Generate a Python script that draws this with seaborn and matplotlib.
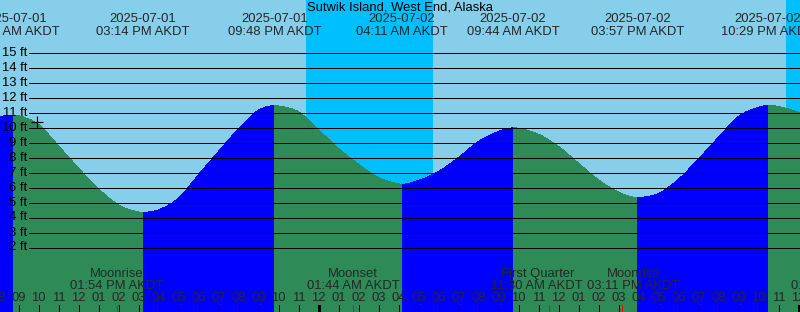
import numpy as np
import pandas as pd
import matplotlib
matplotlib.use("Agg")
import matplotlib.pyplot as plt
import seaborn as sns
from matplotlib.path import Path
from matplotlib.patches import PathPatch
from matplotlib.transforms import blended_transform_factory

# ---------------- data ----------------
station = "Sutwik Island, West End, Alaska"

# hours since 2025-07-01 00:00 AKDT, tide height in feet
tide_hours = [8.0, 8.75, 9, 10, 11, 12, 13, 14, 15, 15.233, 16, 17, 18, 19, 20, 21,
              21.8, 22, 23, 24, 25, 26, 27, 28, 28.183, 29, 30, 31, 32, 33, 33.733,
              34, 35, 36, 37, 38, 39, 39.95, 40, 41, 42, 43, 44, 45, 46, 46.483,
              47, 48, 48.1]
tide_feet = [10.74, 10.80, 10.78, 10.2, 8.77, 7.29, 5.91, 4.84, 4.37, 4.35, 4.51,
             5.29, 6.85, 8.4, 9.91, 11.15, 11.45, 11.43, 11.05, 9.85, 8.6, 7.55,
             6.65, 6.25, 6.22, 6.47, 7.07, 8.0, 9.07, 9.73, 9.97, 9.95, 9.55, 8.73,
             7.62, 6.51, 5.69, 5.33, 5.33, 5.6, 6.55, 7.9, 9.35, 10.73, 11.35,
             11.47, 11.4, 11.02, 10.97]

extreme_hours = [8.75, 15.233, 21.8, 28.183, 33.733, 39.95, 46.483]
extreme_dates = ["2025-07-01", "2025-07-01", "2025-07-01", "2025-07-02",
                 "2025-07-02", "2025-07-02", "2025-07-02"]
extreme_times = ["08:45 AM AKDT", "03:14 PM AKDT", "09:48 PM AKDT", "04:11 AM AKDT",
                 "09:44 AM AKDT", "03:57 PM AKDT", "10:29 PM AKDT"]

moon_hours = [13.9, 25.733, 35.5, 39.183, 49.917]
moon_names = ["Moonrise", "Moonset", "First Quarter", "Moonrise", "Moonset"]
moon_times = ["01:54 PM AKDT", "01:44 AM AKDT", "11:30 AM AKDT", "03:11 PM AKDT",
              "01:55 AM AKDT"]

night_start = [23.37, 47.39]
night_end = [29.72, 53.70]

now_hour = 9.94
now_feet = 10.37

feet_ticks = list(range(2, 16))
hour_ticks = list(range(8, 49))

# ---------------- style ----------------
SKY = "#87CEEB"
NIGHT = "#00BFFF"
RISING = "#0000FF"
FALLING = "#2E8B57"

sns.set_theme(style="white")
plt.rcParams["font.family"] = ["Liberation Sans", "DejaVu Sans"]
FS = 9.4
PX = 0.72  # one pixel in points

W, H = 800, 312
fig = plt.figure(figsize=(W / 100, H / 100), dpi=100)
ax = fig.add_axes([0, 0, 1, 1])
ax.set_facecolor(SKY)

x0 = 161.5 / 20
ax.set_xlim(x0, x0 + W / 20)
ybot = (277.5 - H) / 15
ax.set_ylim(ybot, 277.5 / 15)
ax.set_axis_off()
ax.add_patch(plt.Rectangle((0, 0), 1, 1, transform=ax.transAxes, color=SKY, zorder=0))

# night bands
for a, b in zip(night_start, night_end):
    ax.axvspan(a, b, color=NIGHT, lw=0, zorder=1)

# tide fills, split at extremes, drawn as smooth cubic curves through the readings
df = pd.DataFrame({"hour": tide_hours, "feet": tide_feet})
xs = df.hour.to_numpy(float)
ys = df.feet.to_numpy(float)
n = len(xs)
slopes = np.zeros(n)
ext_set = set(np.round(extreme_hours, 3))
for i in range(n):
    if round(xs[i], 3) in ext_set:
        slopes[i] = 0.0
    elif i == 0:
        slopes[i] = (ys[1] - ys[0]) / (xs[1] - xs[0])
    elif i == n - 1:
        slopes[i] = (ys[-1] - ys[-2]) / (xs[-1] - xs[-2])
    else:
        s1 = (ys[i] - ys[i - 1]) / (xs[i] - xs[i - 1])
        s2 = (ys[i + 1] - ys[i]) / (xs[i + 1] - xs[i])
        slopes[i] = 0.5 * (s1 + s2)

bounds = sorted(set(extreme_hours) | {tide_hours[0], tide_hours[-1]})
for a, b in zip(bounds[:-1], bounds[1:]):
    idx = np.where((xs >= a - 1e-9) & (xs <= b + 1e-9))[0]
    rising = ys[idx[-1]] > ys[idx[0]]
    col = RISING if rising else FALLING
    verts = [(xs[idx[0]], ybot), (xs[idx[0]], ys[idx[0]])]
    codes = [Path.MOVETO, Path.LINETO]
    for i, j in zip(idx[:-1], idx[1:]):
        dx = xs[j] - xs[i]
        verts += [(xs[i] + dx / 3, ys[i] + slopes[i] * dx / 3),
                  (xs[j] - dx / 3, ys[j] - slopes[j] * dx / 3),
                  (xs[j], ys[j])]
        codes += [Path.CURVE4] * 3
    verts += [(xs[idx[-1]], ybot), (xs[idx[0]], ybot)]
    codes += [Path.LINETO, Path.CLOSEPOLY]
    ax.add_patch(PathPatch(Path(verts, codes), facecolor=col, edgecolor="none",
                           lw=0, antialiased=False, zorder=2))

# horizontal reference lines
ft_tr = blended_transform_factory(ax.transAxes, ax.transData)
for f in feet_ticks:
    ax.axhline(f, xmin=29 / W, xmax=1, color="black", lw=PX, antialiased=False, zorder=4)
    ax.text(27 / W, f, f"{f} ft", transform=ft_tr, ha="right", va="center",
            fontsize=FS, color="black", zorder=5)

# current-time mark
sns.scatterplot(x=[now_hour], y=[now_feet], marker="+", s=70, linewidth=PX * 1.2,
                color="black", ax=ax, zorder=5, legend=False)
ax.set_axis_off()

bt = blended_transform_factory(ax.transData, ax.transAxes)
def fy(py):
    return 1 - py / H

# title and extreme labels
ax.text(0.5, fy(7.3), station, transform=ax.transAxes, ha="center", va="center",
        fontsize=FS, color="black", zorder=6)
for hr, d, t in zip(extreme_hours, extreme_dates, extreme_times):
    ax.text(hr, fy(19.3), d, transform=bt, ha="center", va="center", fontsize=FS, zorder=6)
    ax.text(hr, fy(31.7), t, transform=bt, ha="center", va="center", fontsize=FS, zorder=6)

# hour tick marks and labels
tick_top = (277.5 - 305) / 15
for hr in hour_ticks:
    lw = 3 * PX if hr % 24 == 0 else PX
    ax.vlines(hr, ybot, tick_top, color="black", lw=lw, antialiased=False, zorder=5)
    lab = hr % 12
    lab = 12 if lab == 0 else lab
    ax.text(hr, fy(297.7), f"{lab:02d}", transform=bt, ha="center", va="center",
            fontsize=FS, zorder=6)

# moon events (labels pushed apart when crowded)
centers = list(moon_hours)
min_sep = 4.8
for i in range(len(centers) - 1):
    gap = centers[i + 1] - centers[i]
    if gap < min_sep:
        d = (min_sep - gap) / 2
        centers[i] -= d
        centers[i + 1] += d
for hr, c, nm, t in zip(moon_hours, centers, moon_names, moon_times):
    ax.vlines(hr, ybot, tick_top, color="red", lw=PX, antialiased=False, zorder=5.5)
    ax.text(c, fy(274), nm, transform=bt, ha="center", va="center", fontsize=FS, zorder=6)
    ax.text(c, fy(285.7), t, transform=bt, ha="center", va="center", fontsize=FS, zorder=6)

fig.savefig("out.png", dpi=100)
